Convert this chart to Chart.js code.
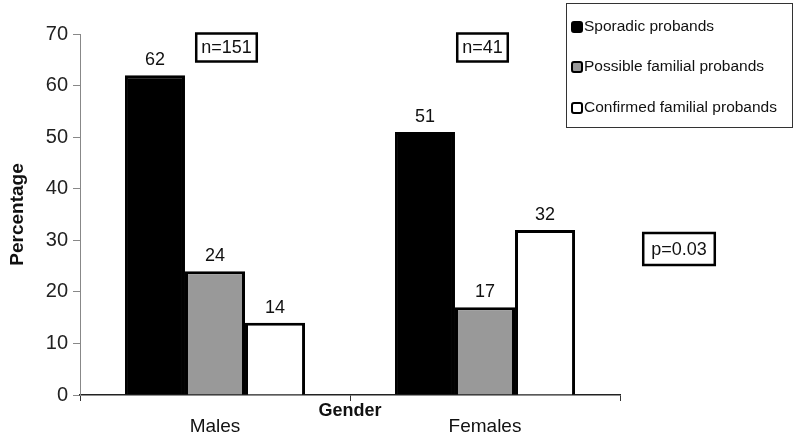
<!DOCTYPE html>
<html><head><meta charset="utf-8">
<script src="https://cdn.jsdelivr.net/npm/chart.js@4"></script>
<style>html,body{margin:0;padding:0;background:#fff}#wrap{width:800px;height:444px}</style>
</head><body><div id="wrap"><canvas id="c" width="800" height="444"></canvas></div>
<script>
const categories = ["Males", "Females"];
const sporadic = [62, 51];
const possible = [24, 17];
const confirmed = [14, 32];
const groupN = ["n=151", "n=41"];
const pText = "p=0.03";
const yTicks = [0, 10, 20, 30, 40, 50, 60, 70];
const FONT = "'Liberation Sans', Arial, sans-serif";

const overlay = {
  id: 'overlay',
  afterDraw(chart) {
    const ctx = chart.ctx;
    const xs = chart.scales.x, ys = chart.scales.y;
    ctx.save();
    // value labels
    ctx.font = "18px " + FONT;
    ctx.fillStyle = "#111";
    ctx.textAlign = "center";
    ctx.textBaseline = "bottom";
    chart.data.datasets.forEach((ds, i) => {
      chart.getDatasetMeta(i).data.forEach((bar, j) => {
        ctx.fillText(String(ds.data[j]), bar.x, bar.y - 6);
      });
    });
    // Gender title
    ctx.font = "bold 18px " + FONT;
    ctx.textBaseline = "middle";
    ctx.fillText("Gender", (xs.left + xs.right) / 2, 411);
    // n boxes
    ctx.font = "18px " + FONT;
    ctx.lineWidth = 2.5;
    ctx.strokeStyle = "#000";
    const nBoxX = [226.5, 482.5];
    groupN.forEach((t, i) => {
      const w = ctx.measureText(t).width + 10;
      const cx = nBoxX[i], cy = 47.5;
      ctx.strokeRect(cx - w / 2, cy - 14, w, 28);
      ctx.fillText(t, cx, cy + 1);
    });
    // p box
    {
      const w = ctx.measureText(pText).width + 16;
      const cx = 679, cy = 249;
      ctx.strokeRect(cx - w / 2, cy - 16, w, 32);
      ctx.fillText(pText, cx, cy + 1);
    }
    // legend
    ctx.lineWidth = 1;
    ctx.strokeStyle = "#333";
    ctx.strokeRect(566.5, 3.5, 226, 124);
    ctx.font = "15.5px " + FONT;
    ctx.textAlign = "left";
    const ly = [27, 67, 108];
    chart.data.datasets.forEach((ds, i) => {
      ctx.fillStyle = ds.backgroundColor;
      ctx.strokeStyle = "#000";
      ctx.lineWidth = 2;
      ctx.beginPath();
      ctx.roundRect(572, ly[i] - 5, 10, 10, 2);
      ctx.fill(); ctx.stroke();
      ctx.fillStyle = "#111";
      ctx.fillText(ds.label, 584, ly[i]);
    });
    ctx.restore();
  }
};

new Chart(document.getElementById('c'), {
  type: 'bar',
  data: {
    labels: categories,
    datasets: [
      {label: "Sporadic probands", data: sporadic, backgroundColor: "#000000", borderColor: "#000", borderWidth: 3},
      {label: "Possible familial probands", data: possible, backgroundColor: "#999999", borderColor: "#000", borderWidth: 3},
      {label: "Confirmed familial probands", data: confirmed, backgroundColor: "#ffffff", borderColor: "#000", borderWidth: 3}
    ]
  },
  options: {
    responsive: false,
    animation: false,
    layout: {padding: {top: 34, right: 180, left: 0, bottom: 0}},
    plugins: {legend: {display: false}, tooltip: {enabled: false}},
    datasets: {bar: {categoryPercentage: 0.667, barPercentage: 1.0}},
    scales: {
      x: {
        afterFit(s) { s.height = 49; },
        grid: {drawOnChartArea: false, drawTicks: true, tickLength: 6, color: "#333", offset: true},
        border: {color: "#222", width: 1.5},
        ticks: {color: "#111", font: {size: 19, family: FONT}, padding: 14}
      },
      y: {
        min: 0, max: 70,
        afterFit(s) { s.width = 80; },
        afterBuildTicks(s) { s.ticks = yTicks.map(v => ({value: v})); },
        grid: {drawOnChartArea: false, drawTicks: true, tickLength: 7, color: "#888"},
        border: {color: "#888", width: 1},
        ticks: {color: "#222", font: {size: 20, family: FONT}, padding: 5},
        title: {display: true, text: "Percentage", color: "#111", font: {size: 19, weight: 'bold', family: FONT}, padding: {top: 6, bottom: 2}}
      }
    }
  },
  plugins: [overlay]
});
</script></body></html>
